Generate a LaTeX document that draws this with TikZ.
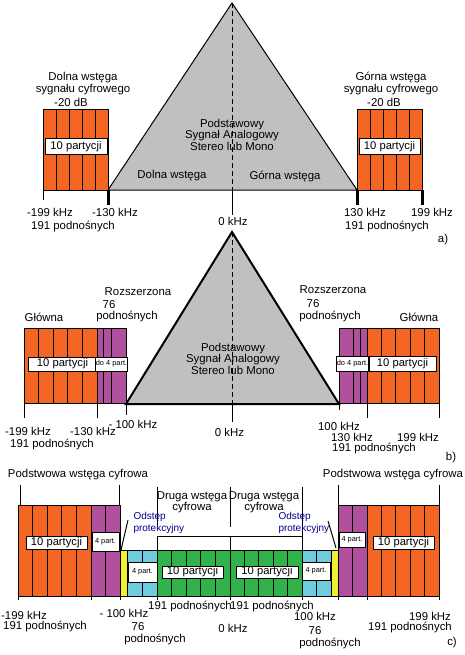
\documentclass[tikz,border=0pt]{standalone}
\usepackage{fontspec}
\setmainfont{Liberation Sans}
\definecolor{orng}{RGB}{242,101,34}
\definecolor{purp}{RGB}{177,81,158}
\definecolor{cyn}{RGB}{112,204,220}
\definecolor{grn}{RGB}{50,178,74}
\definecolor{yel}{RGB}{240,240,50}
\definecolor{gry}{RGB}{192,192,192}
\definecolor{navyt}{RGB}{0,0,140}
\begin{document}
\begin{tikzpicture}[x=1pt,y=-1pt, line width=1pt,
 lbl/.style={inner sep=0pt, font=\fontsize{11.4}{11.5}\selectfont, align=center},
 pbox/.style={draw, fill=white, inner sep=0pt, font=\fontsize{11.2}{12}\selectfont},
 sbox/.style={draw, fill=white, inner sep=0pt, font=\fontsize{7.4}{8}\selectfont},
 blu/.style={inner sep=0pt, text=navyt, font=\fontsize{10}{12}\selectfont, align=left, anchor=west},
 band/.style={draw=black, line width=1pt},
 thk/.style={line width=3pt},
 tri/.style={fill=gry, draw=black},
 ctr/.style={dash pattern=on 5pt off 3pt}
]
\useasboundingbox[fill=white] (0,0) rectangle (464,655);

% ================= panel a =================
\draw[tri] (232,3) -- (108,190) -- (357,190) -- cycle;
\draw[ctr] (232,3) -- (232,190);
\draw (232,190) -- (232,215);
\draw[band, fill=orng] (43,110) rectangle (108,190);
\draw[band, fill=orng] (357,110) rectangle (422,190);
\foreach \x in {56,69,82,95,370,383,396,409} \draw (\x,110) -- (\x,190);
\draw (43,190) -- (43,200);
\draw[thk] (108,190) -- (108,205);
\draw[thk] (357,190) -- (357,205);
\draw[thk] (422,190) -- (422,205);
\node[pbox, minimum width=62, minimum height=16] (pa1) at (76,147) {10 partycji};
\node[pbox, minimum width=61, minimum height=16] (pa2) at (389.5,147) {10 partycji};

\node[lbl] (dla) at (83,83.5) {Dolna wstęga\\sygnału cyfrowego};
\node[lbl] (dba) at (71,102) {-20 dB};
\node[lbl] (gla) at (391,83.5) {Górna wstęga\\sygnału cyfrowego};
\node[lbl] (dbb) at (384,102) {-20 dB};
\node[lbl] (cta) at (232,134.5) {Podstawowy\\Sygnał Analogowy\\Stereo lub Mono};
\node[lbl] (dw) at (172,176) {Dolna wstęga};
\node[lbl] (gw) at (285,176) {Górna wstęga};
\node[lbl] (k1) at (50,212) {-199 kHz};
\node[lbl] (k2) at (115,212) {-130 kHz};
\node[lbl] (p1) at (73,226) {191 podnośnych};
\node[lbl] (k0) at (233,221) {0 kHz};
\node[lbl] (k3) at (365,212) {130 kHz};
\node[lbl] (k4) at (432,212) {199 kHz};
\node[lbl] (p2) at (387,226) {191 podnośnych};
\node[lbl] (la) at (443,240) {a)};

% ================= panel b =================
\draw[tri, line width=2pt] (232,232) -- (126,404) -- (339,404) -- cycle;
\draw[ctr] (232,232) -- (232,404);
\draw (232,404) -- (232,422);
\draw[band, fill=orng] (24,328) rectangle (97,403);
\draw[band, fill=purp] (97,328) rectangle (126,403);
\draw[band, fill=purp] (339,328) rectangle (367,403);
\draw[band, fill=orng] (367,328) rectangle (439,403);
\foreach \x in {38.6,53.2,67.8,82.4,103,111,353,360,381.4,395.8,410.2,424.6} \draw (\x,328) -- (\x,403);
\draw (24,403) -- (24,418);
\draw (97,403) -- (97,418);
\draw (126,403) -- (126,415);
\draw (339,403) -- (339,410);
\draw (367,403) -- (367,418);
\draw (439,403) -- (439,418);
\node[pbox, minimum width=69, minimum height=14] (pb1b) at (62.5,364) {10 partycji};
\node[sbox, minimum width=29, minimum height=14] (sb1) at (111.5,364) {do 4 part.};
\node[sbox, minimum width=27, minimum height=15] (sb2) at (352.5,363.5) {do 4 part.};
\node[pbox, minimum width=67, minimum height=15] (pb2b) at (402.5,363.5) {10 partycji};

\node[lbl] (glb1) at (44,317) {Główna};
\node[lbl] (rzb1) at (138,292) {Rozszerzona};
\node[lbl] (r76a) at (109,305) {76};
\node[lbl] (podb1) at (127,316) {podnośnych};
\node[lbl] (rzb2) at (333,290) {Rozszerzona};
\node[lbl] (r76b) at (313,304) {76};
\node[lbl] (podb2) at (330,316) {podnośnych};
\node[lbl] (glb2) at (419,317) {Główna};
\node[lbl] (ctb) at (233,358.5) {Podstawowy\\Sygnał Analogowy\\Stereo lub Mono};
\node[lbl] (kb1) at (28,431) {-199 kHz};
\node[lbl] (kb2) at (93,431) {-130 kHz};
\node[lbl] (kb3) at (133,424) {- 100 kHz};
\node[lbl] (pb1) at (52,444) {191 podnośnych};
\node[lbl] (kb0) at (229.5,432) {0 kHz};
\node[lbl] (kb4) at (339,426) {100 kHz};
\node[lbl] (kb5) at (352,437) {130 kHz};
\node[lbl] (kb6) at (418,437) {199 kHz};
\node[lbl] (pb2) at (374,448) {191 podnośnych};
\node[lbl] (lb) at (451,458) {b)};

% ================= panel c =================
\draw[band, fill=orng] (18,505) rectangle (91,596);
\draw[band, fill=purp] (91,505) rectangle (120,596);
\draw[band, fill=yel] (120,550) rectangle (127,596);
\draw[band, fill=cyn] (127,550) rectangle (157,596);
\draw[band, fill=grn] (157,550) rectangle (302,596);
\draw[band, fill=cyn] (302,550) rectangle (331,596);
\draw[band, fill=yel] (331,550) rectangle (338,596);
\draw[band, fill=purp] (338,505) rectangle (367,596);
\draw[band, fill=orng] (367,505) rectangle (439,596);
\foreach \x in {32.6,47.2,61.8,76.4,105.5,352.5,381.4,395.8,410.2,424.6} \draw (\x,505) -- (\x,596);
\foreach \x in {142,171.5,186,200.5,215,230,244,258.5,273,287.5,316.5} \draw (\x,550) -- (\x,596);
\foreach \x in {18,91,120,157,230,302,338,367,439} \draw (\x,596) -- (\x,600);

\draw (20,485) -- (20,505);
\draw (119,485) -- (119,505);
\draw (338,485) -- (338,505);
\draw (439,485) -- (439,505);
\draw (157,487) -- (157,527);
\draw (230,487) -- (230,527);
\draw (302,487) -- (302,550);
\draw (157,536) -- (302,536);
\draw (157,536) -- (157,550);
\draw (230,536) -- (230,550);
\draw (121,550) -- (128,520);
\draw (328,521) -- (336,548);

\node[pbox, minimum width=61, minimum height=13] (pc1b) at (56.5,542.5) {10 partycji};
\node[sbox, minimum width=27, minimum height=19] (sc1) at (105.5,541.5) {4 part.};
\node[sbox, minimum width=29, minimum height=20] (sc2) at (142.5,572) {4 part.};
\node[pbox, minimum width=61, minimum height=12] (pc2b) at (192.5,572) {10 partycji};
\node[pbox, minimum width=62, minimum height=12] (pc3b) at (267,572) {10 partycji};
\node[sbox, minimum width=28, minimum height=18] (sc3) at (316,571) {4 part.};
\node[sbox, minimum width=26, minimum height=15] (sc4) at (352,539.5) {4 part.};
\node[pbox, minimum width=61, minimum height=13] (pc4b) at (403.5,542.5) {10 partycji};

\node[lbl] (pc1) at (78,475) {Podstwowa wstęga cyfrowa};
\node[lbl] (pc2) at (393,475) {Podstwowa wstęga cyfrowa};
\node[lbl] (dc1) at (192,502.5) {Druga wstęga\\cyfrowa};
\node[lbl] (dc2) at (264,502.5) {Druga wstęga\\cyfrowa};
\node[blu] (od1) at (133,523) {Odstęp\\protekcyjny};
\node[blu] (od2) at (278,523) {Odstęp\\protekcyjny};
\node[lbl] (kc1) at (24,615) {-199 kHz};
\node[lbl] (pcc1) at (45,626) {191 podnośnych};
\node[lbl] (kc2) at (124,613) {- 100 kHz};
\node[lbl] (c76a) at (138,627) {76};
\node[lbl] (cpa) at (155,639) {podnośnych};
\node[lbl] (pcc2) at (190,606) {191 podnośnych};
\node[lbl] (pcc3) at (272,606) {191 podnośnych};
\node[lbl] (kc0) at (233,628) {0 kHz};
\node[lbl] (kc3) at (315,616) {100 kHz};
\node[lbl] (c76b) at (315,631) {76};
\node[lbl] (cpb) at (330,643) {podnośnych};
\node[lbl] (kc4) at (430,616) {199 kHz};
\node[lbl] (pcc4) at (410,627) {191 podnośnych};
\node[lbl] (lc) at (452,643) {c)};
\end{tikzpicture}
\end{document}
